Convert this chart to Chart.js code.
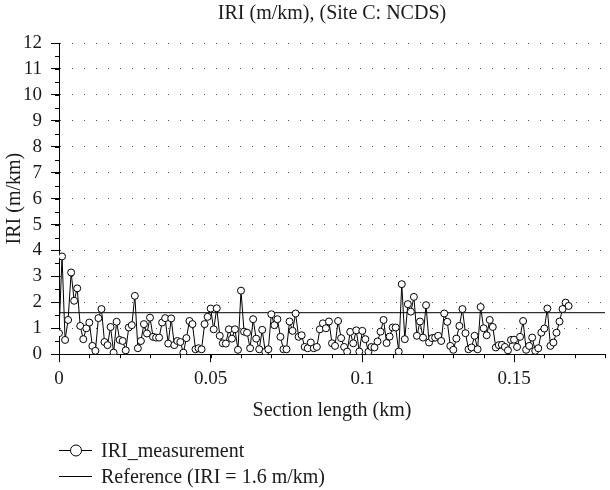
<!DOCTYPE html>
<html>
<head>
<meta charset="utf-8">
<script src="https://cdn.jsdelivr.net/npm/chart.js@4.4.1/dist/chart.umd.min.js"></script>
<style>
  body { margin: 0; background: #fff; }
  #wrap { width: 610px; height: 490px; }
</style>
</head>
<body>
<div id="wrap"><canvas id="iriChart" width="610" height="490"></canvas></div>
<script>
// IRI measurements, one reading every metre (km along section)
var stepKm = 0.001;
var iriValues = [
  0.81, 3.77, 0.55, 1.32, 3.15, 2.06, 2.54, 1.09, 0.58, 1.00,
  1.22, 0.32, 0.13, 1.39, 1.74, 0.47, 0.35, 1.05, 0.06, 1.25,
  0.55, 0.51, 0.15, 1.03, 1.12, 2.25, 0.23, 0.51, 1.16, 0.80,
  1.41, 0.67, 0.64, 0.64, 1.22, 1.39, 0.41, 1.38, 0.35, 0.51,
  0.47, 0.06, 0.62, 1.28, 1.16, 0.19, 0.23, 0.19, 1.16, 1.44,
  1.76, 0.96, 1.77, 0.71, 0.42, 0.41, 0.96, 0.60, 0.96, 0.17,
  2.45, 0.87, 0.83, 0.23, 1.35, 0.60, 0.19, 0.94, 0.09, 0.19,
  1.54, 1.12, 1.35, 0.67, 0.19, 0.19, 1.26, 0.90, 1.57, 0.67,
  0.73, 0.28, 0.23, 0.45, 0.23, 0.28, 0.96, 1.19, 1.00, 1.26,
  0.42, 0.32, 1.28, 0.62, 0.28, 0.10, 0.86, 0.42, 0.92, 0.10,
  0.90, 0.58, 0.09, 0.28, 0.26, 0.49, 0.87, 1.32, 0.43, 0.68,
  1.03, 1.03, 0.10, 2.70, 0.58, 1.93, 1.64, 2.21, 0.71, 1.26,
  0.64, 1.89, 0.45, 0.62, 0.64, 0.71, 0.51, 1.57, 1.25, 0.32,
  0.17, 0.60, 1.09, 1.74, 0.81, 0.19, 0.26, 0.71, 0.19, 1.82,
  1.00, 0.73, 1.32, 1.05, 0.26, 0.35, 0.36, 0.28, 0.15, 0.55,
  0.56, 0.28, 0.67, 1.28, 0.17, 0.32, 0.64, 0.13, 0.23, 0.83,
  0.99, 1.76, 0.32, 0.45, 0.83, 1.26, 1.74, 1.99, 1.86
];
var referenceIri = 1.6;
var referenceSpan = [0, 0.18];
var seriesLabels = ['IRI_measurement', 'Reference (IRI = 1.6 m/km)'];
var xMajorStep = 0.05, xMinorStep = 0.01;
var yMajorStep = 1, yMinorStep = 0.5;

var serif = '"Liberation Serif", "Times New Roman", serif';
var ink = '#1a1a1a';

var measurePoints = iriValues.map(function (v, i) {
  return { x: +(i * stepKm).toFixed(3), y: v };
});
var refPoints = referenceSpan.map(function (x) { return { x: x, y: referenceIri }; });

// short minor ticks between the labelled ones
var minorTicks = {
  id: 'minorTicks',
  afterDraw: function (chart) {
    var ctx = chart.ctx, xs = chart.scales.x, ys = chart.scales.y;
    ctx.save();
    ctx.strokeStyle = '#000';
    ctx.lineWidth = 1;
    ctx.beginPath();
    var n = Math.round((xs.max - xs.min) / xMinorStep);
    for (var i = 0; i <= n; i++) {
      var px = Math.round(xs.getPixelForValue(xs.min + i * xMinorStep)) + 0.5;
      ctx.moveTo(px, xs.top);
      ctx.lineTo(px, xs.top + 4);
    }
    var m = Math.round((ys.max - ys.min) / yMinorStep);
    for (var j = 0; j <= m; j++) {
      var py = Math.round(ys.getPixelForValue(ys.min + j * yMinorStep)) + 0.5;
      ctx.moveTo(ys.right, py);
      ctx.lineTo(ys.right - 4, py);
    }
    ctx.stroke();
    ctx.restore();
  }
};

// two stacked legend rows drawn under the axis title
var stackedLegend = {
  id: 'stackedLegend',
  afterDraw: function (chart) {
    var ctx = chart.ctx;
    ctx.save();
    ctx.font = '20px ' + serif;
    ctx.textBaseline = 'middle';
    ctx.strokeStyle = '#000';
    ctx.lineWidth = 1;
    chart.data.datasets.forEach(function (ds, i) {
      var y = 450.5 + i * 26;
      ctx.beginPath();
      ctx.moveTo(59, y);
      ctx.lineTo(92, y);
      ctx.stroke();
      if (ds.pointRadius > 0) {
        ctx.beginPath();
        ctx.arc(76, y, 5.5, 0, Math.PI * 2);
        ctx.fillStyle = '#fff';
        ctx.fill();
        ctx.stroke();
      }
      ctx.fillStyle = ink;
      ctx.fillText(ds.label, 101, y + 1);
    });
    ctx.restore();
  }
};

var ctx = document.getElementById('iriChart').getContext('2d');
var chart = new Chart(ctx, {
  type: 'line',
  plugins: [minorTicks, stackedLegend],
  data: {
    datasets: [{
      label: seriesLabels[0],
      data: measurePoints,
      borderColor: '#000',
      borderWidth: 1,
      backgroundColor: '#fff',
      pointRadius: 3.5,
      pointBorderWidth: 1,
      pointBackgroundColor: '#fff',
      pointBorderColor: '#000',
      tension: 0
    }, {
      label: seriesLabels[1],
      data: refPoints,
      borderColor: '#000',
      borderWidth: 1,
      pointRadius: 0,
      tension: 0
    }]
  },
  options: {
    responsive: false,
    animation: false,
    layout: { padding: { left: 0, right: 0, top: 0, bottom: 67 } },
    plugins: {
      legend: { display: false },
      tooltip: { enabled: false },
      title: {
        display: true,
        fullSize: false,
        text: 'IRI (m/km), (Site C: NCDS)',
        color: ink,
        font: { family: serif, size: 20, weight: 'normal' },
        padding: { top: 2, bottom: 17 }
      }
    },
    scales: {
      x: {
        type: 'linear',
        min: 0,
        max: 0.18,
        border: { display: true, color: '#000', width: 1 },
        grid: { drawOnChartArea: false, drawTicks: true, tickLength: 8, color: '#000' },
        ticks: {
          stepSize: xMajorStep,
          includeBounds: false,
          autoSkip: false,
          maxRotation: 0,
          color: ink,
          padding: 5,
          font: { family: serif, size: 19 },
          callback: function (value) {
            return String(Math.round(value * 1000) / 1000);
          }
        },
        title: {
          display: true,
          text: 'Section length (km)',
          color: ink,
          font: { family: serif, size: 20 },
          padding: { top: 4, bottom: 0 }
        }
      },
      y: {
        min: 0,
        max: 12,
        border: { display: true, color: '#000', width: 1, dash: [1, 11] },
        grid: { drawOnChartArea: true, drawTicks: true, tickLength: 8, color: '#555', tickColor: '#000' },
        ticks: {
          stepSize: yMajorStep,
          color: ink,
          padding: 9,
          font: { family: serif, size: 19 }
        },
        title: {
          display: true,
          text: 'IRI (m/km)',
          color: ink,
          font: { family: serif, size: 20 },
          padding: { top: 3, bottom: -13 }
        }
      }
    }
  }
});
</script>
</body>
</html>
